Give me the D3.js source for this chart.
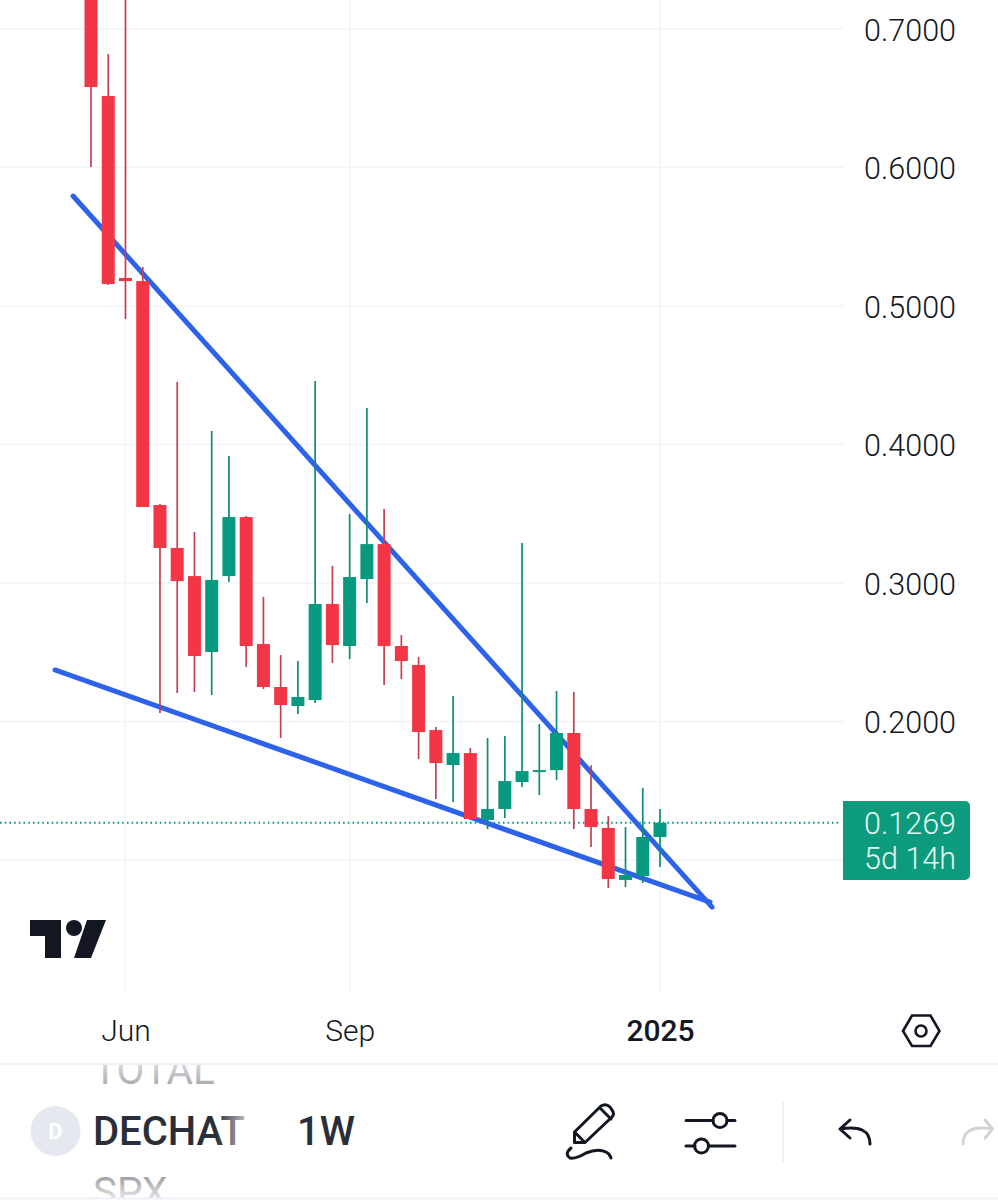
<!DOCTYPE html>
<html>
<head>
<meta charset="utf-8">
<script src="https://cdn.jsdelivr.net/npm/d3@7"></script>
<style>
  html, body { margin: 0; padding: 0; background: #fff; }
  svg { display: block; font-family: Roboto, sans-serif; }
  .axis path, .axis line { display: none; }
</style>
</head>
<body>
<div id="chart"></div>
<script>
// weekly candles (week 0 and the week 2 high run off the top)
const opens = [0.75, 0.6516, 0.5202, 0.5180, 0.3563, 0.3253, 0.3050, 0.2502, 0.3050, 0.3476, 0.2559, 0.2249, 0.2112, 0.2155, 0.2848, 0.2545, 0.3029, 0.3281, 0.2545, 0.2408, 0.1938, 0.1686, 0.1772, 0.1289, 0.1368, 0.1563, 0.1635, 0.1649, 0.1917, 0.1368, 0.1231, 0.0856, 0.0885, 0.1166];
const highs = [0.80, 0.6819, 0.75, 0.5282, 0.3570, 0.4451, 0.3368, 0.4097, 0.3917, 0.3484, 0.2899, 0.2480, 0.2437, 0.4458, 0.3123, 0.3498, 0.4264, 0.3534, 0.2624, 0.2466, 0.1960, 0.2185, 0.1809, 0.1881, 0.1895, 0.3289, 0.1982, 0.2220, 0.2213, 0.1685, 0.1318, 0.1238, 0.1520, 0.1368];
const lows = [0.6004, 0.5152, 0.4906, 0.3549, 0.2061, 0.2206, 0.2213, 0.2191, 0.3007, 0.2394, 0.2235, 0.1881, 0.2054, 0.2133, 0.2422, 0.2451, 0.2856, 0.2264, 0.2307, 0.1729, 0.1440, 0.1419, 0.1289, 0.1224, 0.1303, 0.1527, 0.1469, 0.1578, 0.1224, 0.1094, 0.0798, 0.0805, 0.0834, 0.0949];
const closes = [0.6581, 0.5159, 0.5180, 0.3549, 0.3253, 0.3014, 0.2473, 0.3022, 0.3476, 0.2545, 0.2249, 0.2119, 0.2177, 0.2848, 0.2552, 0.3043, 0.3281, 0.2545, 0.2437, 0.1924, 0.1700, 0.1772, 0.1296, 0.1368, 0.1570, 0.1642, 0.1649, 0.1917, 0.1368, 0.1238, 0.0863, 0.0892, 0.1166, 0.1269];

const priceTicks = [0.7, 0.6, 0.5, 0.4, 0.3, 0.2, 0.1];
const priceLabels = [0.7, 0.6, 0.5, 0.4, 0.3, 0.2];
const timeTicks = [2, 15, 33];
const timeLabels = ["Jun", "Sep", "2025"];
const lastPrice = 0.1269;
const countdown = "5d 14h";

// hand drawn trend lines as [week, price]
const upperLine = [[-1.04, 0.5794], [36.02, 0.0660]];
const lowerLine = [[-2.09, 0.2372], [35.9, 0.0696]];

const width = 998;
const height = 1200;
const plotRight = 843;
const plotBottom = 993;

const red = "#f23645";
const green = "#089981";
const redWick = "#c53f52";
const greenWick = "#0f8c74";
const gridColor = "#f1f3f8";
const textColor = "#131722";

const x = d3.scaleLinear().domain([0, 33]).range([91, 660]);
const y = d3.scaleLinear().domain([0.7, 0.1]).range([29, 860]);

const svg = d3.select("#chart").append("svg")
  .attr("width", width)
  .attr("height", height);

const defs = svg.append("defs");

function fade(id, x1, y1, x2, y2, stops) {
  const g = defs.append("linearGradient").attr("id", id)
    .attr("gradientUnits", "userSpaceOnUse")
    .attr("x1", x1).attr("y1", y1).attr("x2", x2).attr("y2", y2);
  stops.forEach(s => g.append("stop").attr("offset", s[0]).attr("stop-color", s[1]));
}
fade("fadeTotal", 0, 1060, 0, 1086, [[0, "#e2e2e4"], [1, "#a8a9ad"]]);
fade("fadeSpx", 0, 1175, 0, 1198, [[0, "#9a9b9f"], [1, "#e4e4e6"]]);
fade("fadeName", 190, 0, 248, 0, [[0, "#2a2e39"], [0.45, "#2a2e39"], [1, "#c8c9cd"]]);
defs.append("clipPath").attr("id", "listClip")
  .append("rect").attr("x", 0).attr("y", 1065).attr("width", width).attr("height", 133);

// grid
svg.append("g").selectAll("line")
  .data(priceTicks)
  .enter()
  .append("line")
  .attr("x1", 0)
  .attr("x2", plotRight)
  .attr("y1", d => y(d))
  .attr("y2", d => y(d))
  .attr("stroke", gridColor)
  .attr("stroke-width", 1.5);

svg.append("g").selectAll("line")
  .data(timeTicks)
  .enter()
  .append("line")
  .attr("x1", d => x(d))
  .attr("x2", d => x(d))
  .attr("y1", 0)
  .attr("y2", plotBottom)
  .attr("stroke", gridColor)
  .attr("stroke-width", 1.5);

// last price line
svg.append("line")
  .attr("x1", 0)
  .attr("x2", plotRight - 3)
  .attr("y1", y(lastPrice))
  .attr("y2", y(lastPrice))
  .attr("stroke", green)
  .attr("stroke-width", 2)
  .attr("stroke-dasharray", "1.6 3.1");

// trend lines sit under the candles
const trend = d3.line().x(d => x(d[0])).y(d => y(d[1]));
svg.append("g").selectAll("path")
  .data([upperLine, lowerLine])
  .enter()
  .append("path")
  .attr("d", trend)
  .attr("fill", "none")
  .attr("stroke", "#2d62ea")
  .attr("stroke-width", 5)
  .attr("stroke-linecap", "round");

const candles = svg.append("g").selectAll("g")
  .data(opens.map((d, i) => i))
  .enter()
  .append("g");

candles.append("line")
  .attr("x1", i => x(i))
  .attr("x2", i => x(i))
  .attr("y1", i => y(highs[i]))
  .attr("y2", i => y(lows[i]))
  .attr("stroke", i => closes[i] >= opens[i] ? greenWick : redWick)
  .attr("stroke-width", 1.7);

candles.append("rect")
  .attr("x", i => x(i) - 6.5)
  .attr("width", 13)
  .attr("y", i => y(Math.max(opens[i], closes[i])))
  .attr("height", i => Math.max(2, Math.abs(y(opens[i]) - y(closes[i]))))
  .attr("fill", i => closes[i] >= opens[i] ? green : red);

// price axis
const priceAxis = d3.axisRight(y)
  .tickValues(priceLabels)
  .tickSize(0)
  .tickPadding(0)
  .tickFormat(d3.format(".4f"));

svg.append("g")
  .attr("class", "axis")
  .attr("transform", "translate(956,1.5)")
  .call(priceAxis)
  .selectAll("text")
  .attr("text-anchor", "end")
  .attr("font-family", "Roboto")
  .attr("font-size", 30.5)
  .attr("font-weight", 300)
  .attr("fill", textColor);

// time axis
const timeAxis = d3.axisBottom(x)
  .tickValues(timeTicks)
  .tickSize(0)
  .tickPadding(0)
  .tickFormat((d, i) => timeLabels[i]);

svg.append("g")
  .attr("class", "axis")
  .attr("transform", "translate(0,1020)")
  .call(timeAxis)
  .selectAll("text")
  .attr("font-family", "Roboto")
  .attr("font-size", 30)
  .attr("font-weight", (d, i) => timeLabels[i] === "2025" ? 500 : 300)
  .attr("fill", textColor);

// last price tag
svg.append("path")
  .attr("d", "M843 801H965a5 5 0 0 1 5 5V875a5 5 0 0 1 -5 5H843Z")
  .attr("fill", "#0c9b7d");

svg.append("text")
  .attr("x", 956)
  .attr("y", 834)
  .attr("text-anchor", "end")
  .attr("font-size", 30.5)
  .attr("font-weight", 300)
  .attr("fill", "#e6f6f2")
  .text(d3.format(".4f")(lastPrice));

svg.append("text")
  .attr("x", 956)
  .attr("y", 869)
  .attr("text-anchor", "end")
  .attr("font-size", 30.5)
  .attr("font-weight", 300)
  .attr("fill", "#e6f6f2")
  .text(countdown);

// logo
svg.append("path")
  .attr("d", "M30 920H61V958H45V936H30ZM87 920H106L91 958H74Z")
  .attr("fill", textColor);
svg.append("circle").attr("cx", 74).attr("cy", 928).attr("r", 8).attr("fill", textColor);

// settings hexagon
svg.append("path")
  .attr("d", "M903 1031L912 1015.5H930.5L939.5 1031L930.5 1046H912Z")
  .attr("fill", "none")
  .attr("stroke", textColor)
  .attr("stroke-width", 2.6);
svg.append("circle").attr("cx", 921).attr("cy", 1031).attr("r", 5.5)
  .attr("fill", "none").attr("stroke", textColor).attr("stroke-width", 2.6);

// bottom toolbar
svg.append("line").attr("x1", 0).attr("x2", width).attr("y1", 1064).attr("y2", 1064)
  .attr("stroke", "#eef1f7").attr("stroke-width", 2);
svg.append("line").attr("x1", 0).attr("x2", width).attr("y1", 1198.5).attr("y2", 1198.5)
  .attr("stroke", "#eef1f7").attr("stroke-width", 2);

const list = svg.append("g").attr("clip-path", "url(#listClip)");
list.append("text").attr("x", 93).attr("y", 1084).attr("font-size", 40.5)
  .attr("fill", "url(#fadeTotal)").text("TOTAL");
list.append("text").attr("x", 93).attr("y", 1206).attr("font-size", 40.5)
  .attr("fill", "url(#fadeSpx)").text("SPX");

svg.append("circle").attr("cx", 55.5).attr("cy", 1131).attr("r", 25).attr("fill", "#e6e8f0");
svg.append("text").attr("x", 55.5).attr("y", 1139).attr("text-anchor", "middle")
  .attr("font-size", 22).attr("font-weight", 700).attr("fill", "#fff").text("D");

svg.append("text").attr("x", 93).attr("y", 1145).attr("font-size", 40).attr("font-weight", 500)
  .attr("fill", "url(#fadeName)").text("DECHAT");
svg.append("text").attr("x", 297).attr("y", 1145).attr("font-size", 40).attr("font-weight", 500)
  .attr("fill", "#2a2e39").text("1W");

const icon = svg.append("g")
  .attr("fill", "none")
  .attr("stroke", textColor)
  .attr("stroke-width", 3)
  .attr("stroke-linecap", "round")
  .attr("stroke-linejoin", "round");

// pencil
icon.append("path").attr("d", "M574.5 1142.5V1132L601 1106Q606 1103 610 1107L612 1110Q615 1114 612 1117L585 1142.5ZM574.5 1132L585 1142.5M600 1108L611 1119");
icon.append("path").attr("d", "M571 1148Q564 1154 570 1158Q576 1159 586 1153Q598 1148 606 1152Q610 1154 611 1158");

// sliders
icon.append("path").attr("d", "M686 1120.5H713M727 1120.5H735M686 1146H695M709 1146H735");
icon.append("circle").attr("cx", 720).attr("cy", 1120.5).attr("r", 7);
icon.append("circle").attr("cx", 701.5).attr("cy", 1146).attr("r", 7);

svg.append("line").attr("x1", 783).attr("x2", 783).attr("y1", 1102).attr("y2", 1162)
  .attr("stroke", "#eef1f7").attr("stroke-width", 2);

// undo, redo
icon.append("path").attr("d", "M850 1120L840 1129L850 1138M840 1129Q870 1124 870 1144");
icon.append("path").attr("stroke", "#d2d3d6").attr("d", "M985 1120L992.5 1129L985 1138M992.5 1129Q963 1124 963 1144");
</script>
</body>
</html>
